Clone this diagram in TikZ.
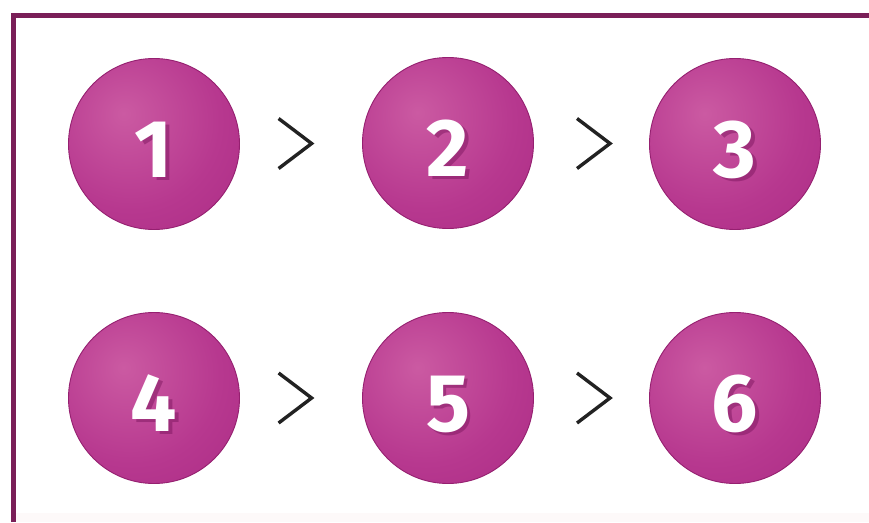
\documentclass[tikz,border=0pt]{standalone}
\usepackage{fontspec}
\setmainfont{Fira Sans}
\usetikzlibrary{calc}
\definecolor{framecol}{HTML}{7A1F58}
\definecolor{ballhi}{HTML}{CB5AA2}
\definecolor{ballmid}{HTML}{B7388F}
\definecolor{balledge}{HTML}{A3237E}
\definecolor{ballline}{HTML}{952070}
\definecolor{digshadow}{HTML}{7E1760}
\definecolor{chevcol}{HTML}{222222}
\pgfdeclareradialshading{ballshade}{\pgfpoint{-9bp}{9bp}}{color(0bp)=(ballhi); color(26bp)=(ballmid); color(58bp)=(balledge); color(100bp)=(balledge)}
\begin{document}
\begin{tikzpicture}[x=1pt,y=-1pt,
  ball/.style={circle, minimum size=171pt, inner sep=0pt, shading=ballshade, draw=ballline, line width=0.9pt},
  digit/.style={anchor=base, inner sep=0pt, text=white, font=\fontsize{82}{82}\selectfont\bfseries},
  digitshadow/.style={digit, text=digshadow, opacity=0.5},
  chev/.style={draw=chevcol, line width=3.4pt, line join=miter, line cap=butt},
  framestyle/.style={draw=framecol, line width=4.6pt}]
\useasboundingbox (0,0) rectangle (869,522);
\fill[white] (0,0) rectangle (869,522);
\fill[fill={rgb,255:red,253;green,249;blue,249}] (15,513) rectangle (869,522);
% frame
\coordinate (fb) at (13.5,522);
\coordinate (fc) at (13.5,15.5);
\coordinate (fr) at (869,15.5);
\draw[framestyle] (fb) -- (fc) -- (fr);
% balls
\foreach \n/\x/\y in {1/154/144, 2/448/143, 3/735/144, 4/154/398, 5/448/398, 6/735/398}{
  \node[ball] (n\n) at (\x,\y) {};
  \node[digitshadow] (s\n) at ($(n\n)+(3.5,36)$) {\n};
  \node[digit] (d\n) at ($(n\n)+(0,33)$) {\n};
}
% chevrons
\coordinate (g12) at ($(n1)!0.48!(n2)$);
\coordinate (g23) at ($(n2)!0.507!(n3)$);
\coordinate (g45) at ($(n4)!0.48!(n5)$);
\coordinate (g56) at ($(n5)!0.507!(n6)$);
\foreach \g in {g12,g23,g45,g56}{
  \draw[chev] ($(\g)+(-16.5,-25)$) -- ($(\g)+(16.5,0)$) -- ($(\g)+(-16.5,25)$);
}
\end{tikzpicture}
\end{document}
